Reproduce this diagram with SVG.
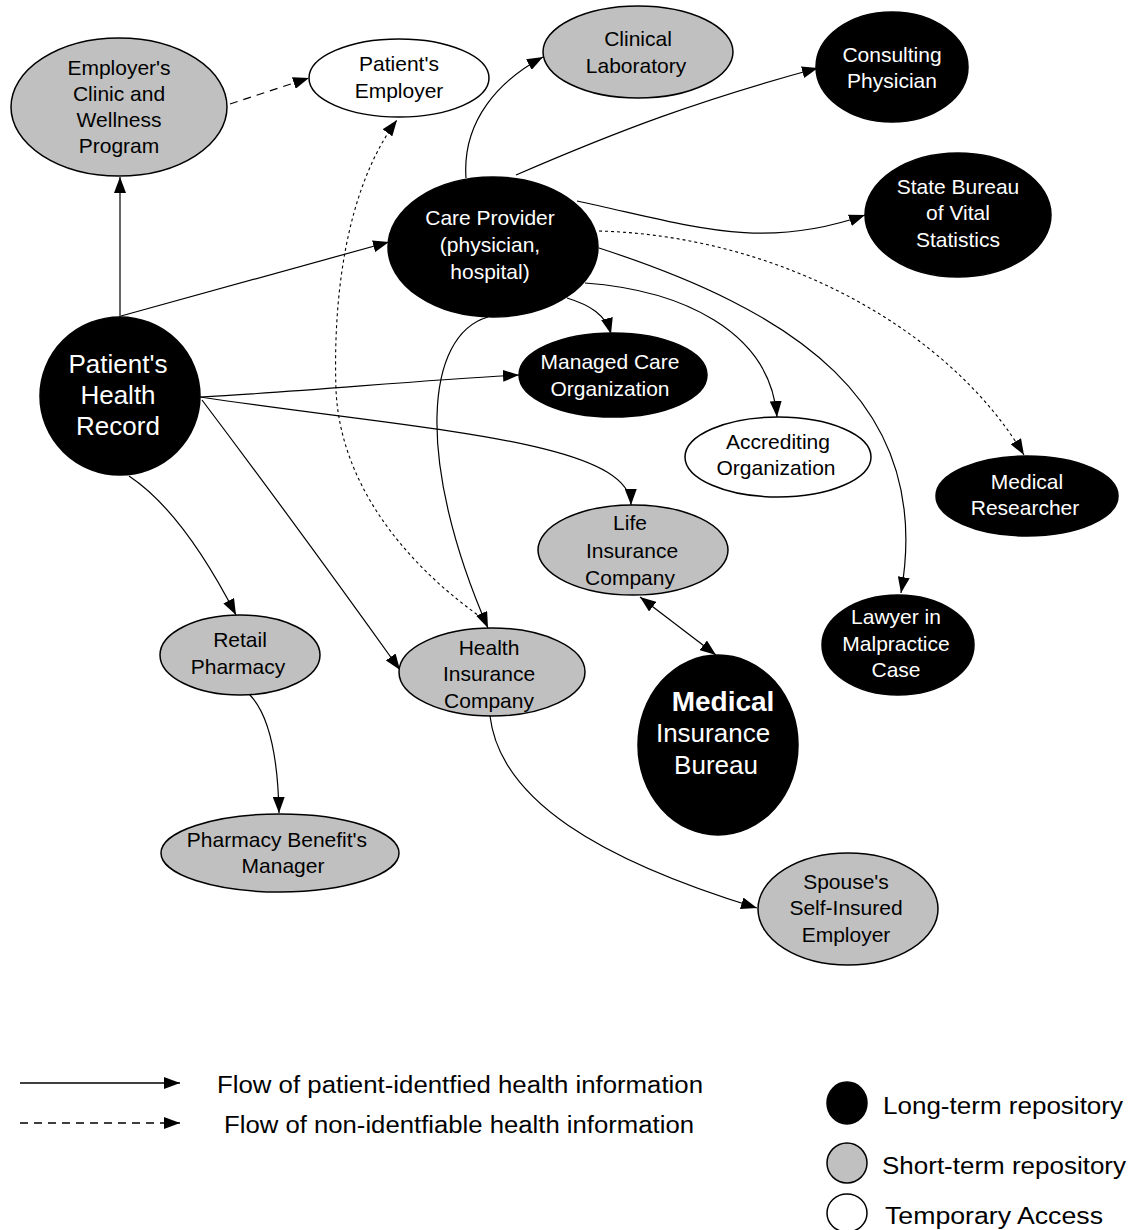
<svg xmlns="http://www.w3.org/2000/svg" width="1130" height="1230" viewBox="0 0 1130 1230">
<defs>
<marker id="ah" viewBox="0 0 16 12" refX="16" refY="6" markerWidth="16" markerHeight="12" markerUnits="userSpaceOnUse" orient="auto-start-reverse">
<path d="M0,0 L16,6 L0,12 z" fill="#000"/>
</marker>
<style>
.lt{fill:#000;stroke:#000;stroke-width:1.5}
.st{fill:#c0c0c0;stroke:#000;stroke-width:1.5}
.tp{fill:#fff;stroke:#000;stroke-width:1.5}
text{font-family:"Liberation Sans",Arial,sans-serif;font-size:21px;text-anchor:middle}
.w{fill:#fff}
.k{fill:#000}
.big{font-size:26px}
.e{fill:none;stroke:#000;stroke-width:1.2;marker-end:url(#ah)}
.dash{stroke-dasharray:8,6}
.dot{stroke-dasharray:3,3;stroke-width:1.1}
.leg{font-size:23px;text-anchor:start}
</style>
</defs>
<rect width="1130" height="1230" fill="#fff"/>

<g id="connectors">
<path class="e" d="M120,317 L120,177"/>
<path class="e" d="M121,316 L389,242"/>
<path class="e dash" d="M230,104 L309,78"/>
<path class="e dot" d="M482,618 C400,560 340,480 336,390 C333,300 345,190 397,120"/>
<path class="e" d="M466,178 C462,120 500,80 543,57"/>
<path class="e" d="M516,175 C620,130 700,100 818,68"/>
<path class="e" d="M577,201 C690,225 760,252 865,215"/>
<path class="e dot" d="M599,231 C780,236 950,330 1024,455"/>
<path class="e" d="M599,248 C790,310 935,400 901,593"/>
<path class="e" d="M585,283 C680,290 770,330 777,417"/>
<path class="e" d="M567,298 C590,305 606,315 611,334"/>
<path class="e" d="M488,317 C425,335 415,460 488,628"/>
<path class="e" d="M200,397 C300,392 420,380 519,375"/>
<path class="e" d="M200,397 C420,430 630,440 631,505"/>
<path class="e" d="M202,400 Q300,530 400,670"/>
<path class="e" d="M129,476 C165,500 200,545 236,615"/>
<path class="e" d="M640,597 L716,655" style="marker-start:url(#ah)"/>
<path class="e" d="M249,694 C270,715 278,760 279,813"/>
<path class="e" d="M490,716 C500,800 600,860 757,908"/>
</g>

<g id="employers-clinic">
<ellipse class="st" cx="119" cy="107" rx="108" ry="69"/>
<text class="k" x="119" y="74.5">Employer's</text>
<text class="k" x="119" y="100.5">Clinic and</text>
<text class="k" x="119" y="126.5">Wellness</text>
<text class="k" x="119" y="152.5">Program</text>
</g>
<g id="patients-employer">
<ellipse class="tp" cx="399" cy="78" rx="90" ry="39"/>
<text class="k" x="399" y="70.5">Patient's</text>
<text class="k" x="399" y="97.5">Employer</text>
</g>
<g id="clinical-laboratory">
<ellipse class="st" cx="638" cy="52" rx="95" ry="46"/>
<text class="k" x="638" y="45.5">Clinical</text>
<text class="k" x="636" y="72.5">Laboratory</text>
</g>
<g id="consulting-physician">
<ellipse class="lt" cx="892" cy="67" rx="76" ry="55"/>
<text class="w" x="892" y="61.5">Consulting</text>
<text class="w" x="892" y="87.5">Physician</text>
</g>
<g id="care-provider">
<ellipse class="lt" cx="493" cy="247" rx="105" ry="70"/>
<text class="w" x="490" y="224.5">Care Provider</text>
<text class="w" x="490" y="251.5">(physician,</text>
<text class="w" x="490" y="278.5">hospital)</text>
</g>
<g id="state-bureau">
<ellipse class="lt" cx="958" cy="215" rx="93" ry="62"/>
<text class="w" x="958" y="193.5">State Bureau</text>
<text class="w" x="958" y="219.5">of Vital</text>
<text class="w" x="958" y="246.5">Statistics</text>
</g>
<g id="patients-health-record">
<ellipse class="lt" cx="120" cy="396" rx="80" ry="79"/>
<text class="w big" x="118" y="373">Patient's</text>
<text class="w big" x="118" y="404">Health</text>
<text class="w big" x="118" y="435">Record</text>
</g>
<g id="managed-care">
<ellipse class="lt" cx="613" cy="375" rx="94" ry="42"/>
<text class="w" x="610" y="368.5">Managed Care</text>
<text class="w" x="610" y="395.5">Organization</text>
</g>
<g id="accrediting">
<ellipse class="tp" cx="778" cy="457" rx="93" ry="40"/>
<text class="k" x="778" y="448.5">Accrediting</text>
<text class="k" x="776" y="474.5">Organization</text>
</g>
<g id="medical-researcher">
<ellipse class="lt" cx="1027" cy="496" rx="91" ry="40"/>
<text class="w" x="1027" y="488.5">Medical</text>
<text class="w" x="1025" y="514.5">Researcher</text>
</g>
<g id="life-insurance">
<ellipse class="st" cx="633" cy="550" rx="95" ry="45"/>
<text class="k" x="630" y="529.5">Life</text>
<text class="k" x="632" y="557.5">Insurance</text>
<text class="k" x="630" y="584.5">Company</text>
</g>
<g id="lawyer">
<ellipse class="lt" cx="898" cy="645" rx="76" ry="50"/>
<text class="w" x="896" y="623.5">Lawyer in</text>
<text class="w" x="896" y="650.5">Malpractice</text>
<text class="w" x="896" y="676.5">Case</text>
</g>
<g id="retail-pharmacy">
<ellipse class="st" cx="240" cy="655" rx="80" ry="40"/>
<text class="k" x="240" y="646.5">Retail</text>
<text class="k" x="238" y="673.5">Pharmacy</text>
</g>
<g id="health-insurance">
<ellipse class="st" cx="492" cy="672" rx="93" ry="44"/>
<text class="k" x="489" y="654.5">Health</text>
<text class="k" x="489" y="680.5">Insurance</text>
<text class="k" x="489" y="707.5">Company</text>
</g>
<g id="medical-insurance-bureau">
<ellipse class="lt" cx="718" cy="745" rx="80" ry="90"/>
<text class="w" x="723" y="711" style="font-size:28px;font-weight:bold">Medical</text>
<text class="w big" x="713" y="742">Insurance</text>
<text class="w big" x="716" y="774">Bureau</text>
</g>
<g id="pharmacy-benefits-manager">
<ellipse class="st" cx="280" cy="853" rx="119" ry="39"/>
<text class="k" x="277" y="846.5">Pharmacy Benefit's</text>
<text class="k" x="283" y="872.5">Manager</text>
</g>
<g id="spouses-employer">
<ellipse class="st" cx="848" cy="909" rx="90" ry="56"/>
<text class="k" x="846" y="888.5">Spouse's</text>
<text class="k" x="846" y="914.5">Self-Insured</text>
<text class="k" x="846" y="941.5">Employer</text>
</g>

<g id="legend">
<path class="e" d="M20,1083 L180,1083" style="stroke-width:1.5"/>
<path class="e dash" d="M20,1123 L180,1123" style="stroke-width:1.5"/>
<text class="leg" x="217" y="1093" textLength="486" lengthAdjust="spacingAndGlyphs">Flow of patient-identfied health information</text>
<text class="leg" x="224" y="1133" textLength="470" lengthAdjust="spacingAndGlyphs">Flow of non-identfiable health information</text>
<ellipse class="lt" cx="847" cy="1103" rx="20" ry="21"/>
<ellipse class="st" cx="847" cy="1163" rx="20" ry="20"/>
<ellipse class="tp" cx="847" cy="1213" rx="20" ry="19"/>
<text class="leg" x="883" y="1114" textLength="240" lengthAdjust="spacingAndGlyphs">Long-term repository</text>
<text class="leg" x="882" y="1174" textLength="244" lengthAdjust="spacingAndGlyphs">Short-term repository</text>
<text class="leg" x="885" y="1224" textLength="218" lengthAdjust="spacingAndGlyphs">Temporary Access</text>
</g>
</svg>
